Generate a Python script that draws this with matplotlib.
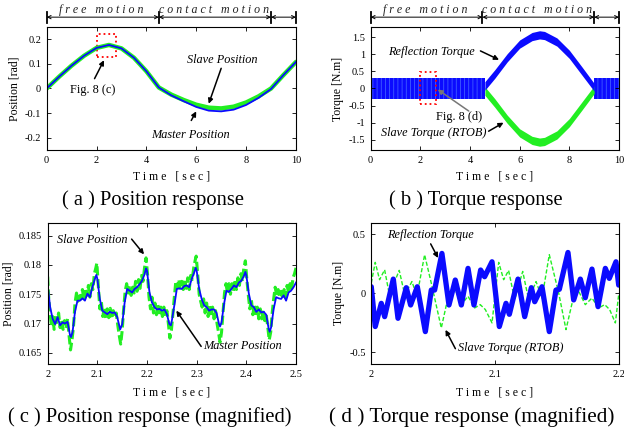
import matplotlib
matplotlib.use('Agg')
import matplotlib.pyplot as plt
from matplotlib.patches import Rectangle

plt.rcParams['font.family'] = ['Liberation Serif', 'DejaVu Serif']
plt.rcParams['hatch.linewidth'] = 0.5

# ---------------- data ----------------
# (a) position response, 0..10 s
pos_time = [0.0, 0.5, 1.0, 1.5, 2.0, 2.5, 3.0, 3.5, 4.0, 4.5, 5.0, 5.5, 6.0, 6.5,
            7.0, 7.5, 8.0, 8.5, 9.0, 9.5, 10.0]
master_pos = [0.0, 0.048, 0.093, 0.133, 0.165, 0.177, 0.163, 0.125, 0.07, 0.004,
              -0.028, -0.052, -0.075, -0.09, -0.093, -0.086, -0.067, -0.038, -0.002,
              0.055, 0.108]
slave_pos = [0.0, 0.048, 0.093, 0.133, 0.165, 0.177, 0.163, 0.125, 0.07, 0.004,
             -0.025, -0.047, -0.066, -0.078, -0.081, -0.074, -0.057, -0.032, 0.0,
             0.055, 0.108]

# (b) torque response envelopes (dense oscillation bands)
free_t1 = [0.0, 4.6]
free_t2 = [9.0, 10.0]
free_upper = [0.32, 0.32]
free_lower = [-0.32, -0.32]
contact_t = [4.6, 5.0, 5.5, 6.0, 6.5, 6.8, 7.0, 7.5, 8.0, 8.5, 9.0]
refl_upper = [0.20, 0.55, 1.02, 1.42, 1.64, 1.69, 1.67, 1.48, 1.12, 0.64, 0.15]
refl_lower = [-0.05, 0.30, 0.78, 1.18, 1.40, 1.45, 1.43, 1.24, 0.88, 0.40, -0.08]
slave_upper = [0.05, -0.30, -0.78, -1.18, -1.40, -1.45, -1.43, -1.24, -0.88, -0.40, 0.08]
slave_lower = [-0.20, -0.55, -1.02, -1.42, -1.64, -1.69, -1.67, -1.48, -1.12, -0.64, -0.15]

# (c) magnified position 2.0..2.5 s
master_c = [
    (2.000, 0.1765), (2.005, 0.1728), (2.010, 0.1708), (2.015, 0.1699), (2.020, 0.1711),
    (2.025, 0.1697), (2.030, 0.1702), (2.035, 0.1700), (2.040, 0.1703), (2.045, 0.1680),
    (2.047, 0.1677), (2.050, 0.1685), (2.055, 0.1720), (2.060, 0.1739), (2.065, 0.1739),
    (2.070, 0.1743), (2.075, 0.1739), (2.080, 0.1751), (2.085, 0.1745), (2.090, 0.1762),
    (2.095, 0.1776), (2.098, 0.1783), (2.100, 0.1776), (2.105, 0.1742), (2.110, 0.1722),
    (2.115, 0.1719), (2.120, 0.1716), (2.125, 0.1720), (2.130, 0.1718), (2.135, 0.1719),
    (2.140, 0.1711), (2.146, 0.1690), (2.150, 0.1699), (2.155, 0.1736), (2.160, 0.1759),
    (2.165, 0.1756), (2.170, 0.1753), (2.175, 0.1759), (2.180, 0.1762), (2.185, 0.1767),
    (2.190, 0.1773), (2.195, 0.1784), (2.198, 0.1794), (2.200, 0.1790), (2.205, 0.1753),
    (2.210, 0.1736), (2.215, 0.1728), (2.220, 0.1724), (2.225, 0.1725), (2.230, 0.1722),
    (2.235, 0.1724), (2.240, 0.1716), (2.245, 0.1699), (2.248, 0.1697), (2.250, 0.1705),
    (2.255, 0.1731), (2.260, 0.1759), (2.265, 0.1760), (2.270, 0.1759), (2.275, 0.1764),
    (2.280, 0.1765), (2.285, 0.1762), (2.290, 0.1776), (2.295, 0.1787), (2.298, 0.1795),
    (2.300, 0.1790), (2.305, 0.1759), (2.310, 0.1742), (2.315, 0.1731), (2.320, 0.1728),
    (2.325, 0.1722), (2.330, 0.1724), (2.335, 0.1724), (2.340, 0.1718), (2.345, 0.1699),
    (2.347, 0.1695), (2.350, 0.1702), (2.355, 0.1733), (2.360, 0.1756), (2.365, 0.1754),
    (2.370, 0.1759), (2.375, 0.1765), (2.380, 0.1762), (2.385, 0.1770), (2.390, 0.1773),
    (2.395, 0.1781), (2.398, 0.1788), (2.400, 0.1782), (2.405, 0.1751), (2.410, 0.1731),
    (2.415, 0.1728), (2.420, 0.1720), (2.425, 0.1724), (2.430, 0.1719), (2.435, 0.1720),
    (2.440, 0.1715), (2.445, 0.1691), (2.447, 0.1686), (2.450, 0.1694), (2.455, 0.1725),
    (2.460, 0.1745), (2.465, 0.1743), (2.470, 0.1742), (2.475, 0.1748), (2.480, 0.1739),
    (2.485, 0.1753), (2.490, 0.1756), (2.495, 0.1762), (2.500, 0.1770)]
slave_c = [
    (2.000, 0.1780), (2.002, 0.1745), (2.005, 0.1715), (2.008, 0.1695), (2.010, 0.1712),
    (2.013, 0.1690), (2.016, 0.1715), (2.019, 0.1702), (2.022, 0.1718), (2.025, 0.1693),
    (2.028, 0.1706), (2.031, 0.1690), (2.034, 0.1705), (2.037, 0.1692), (2.040, 0.1708),
    (2.043, 0.1680), (2.046, 0.1655), (2.049, 0.1672), (2.052, 0.1695), (2.055, 0.1735),
    (2.058, 0.1752), (2.061, 0.1738), (2.064, 0.1752), (2.067, 0.1742), (2.070, 0.1758),
    (2.073, 0.1740), (2.076, 0.1760), (2.079, 0.1748), (2.082, 0.1765), (2.085, 0.1745),
    (2.088, 0.1768), (2.091, 0.1758), (2.094, 0.1785), (2.097, 0.1795), (2.099, 0.1803),
    (2.102, 0.1765), (2.105, 0.1725), (2.108, 0.1738), (2.111, 0.1712), (2.114, 0.1728),
    (2.117, 0.1708), (2.120, 0.1725), (2.123, 0.1710), (2.126, 0.1726), (2.129, 0.1708),
    (2.132, 0.1722), (2.135, 0.1712), (2.138, 0.1718), (2.141, 0.1698), (2.144, 0.1680),
    (2.147, 0.1665), (2.150, 0.1688), (2.153, 0.1725), (2.156, 0.1755), (2.159, 0.1768),
    (2.162, 0.1752), (2.165, 0.1765), (2.168, 0.1748), (2.171, 0.1762), (2.174, 0.1752),
    (2.177, 0.1772), (2.180, 0.1755), (2.183, 0.1775), (2.186, 0.1760), (2.189, 0.1782),
    (2.192, 0.1772), (2.195, 0.1795), (2.198, 0.1812), (2.201, 0.1785), (2.204, 0.1745),
    (2.207, 0.1725), (2.210, 0.1745), (2.213, 0.1718), (2.216, 0.1735), (2.219, 0.1715),
    (2.222, 0.1732), (2.225, 0.1713), (2.228, 0.1728), (2.231, 0.1712), (2.234, 0.1728),
    (2.237, 0.1712), (2.240, 0.1722), (2.243, 0.1700), (2.246, 0.1675), (2.249, 0.1688),
    (2.252, 0.1715), (2.255, 0.1745), (2.258, 0.1772), (2.261, 0.1762), (2.264, 0.1775),
    (2.267, 0.1758), (2.270, 0.1772), (2.273, 0.1758), (2.276, 0.1775), (2.279, 0.1760),
    (2.282, 0.1778), (2.285, 0.1758), (2.288, 0.1782), (2.291, 0.1775), (2.294, 0.1795),
    (2.297, 0.1808), (2.299, 0.1815), (2.302, 0.1785), (2.305, 0.1750), (2.308, 0.1738),
    (2.311, 0.1728), (2.314, 0.1742), (2.317, 0.1718), (2.320, 0.1735), (2.323, 0.1712),
    (2.326, 0.1730), (2.329, 0.1712), (2.332, 0.1728), (2.335, 0.1708), (2.338, 0.1722),
    (2.341, 0.1700), (2.344, 0.1685), (2.347, 0.1668), (2.350, 0.1685), (2.353, 0.1718),
    (2.356, 0.1752), (2.359, 0.1768), (2.362, 0.1752), (2.365, 0.1768), (2.368, 0.1750),
    (2.371, 0.1768), (2.374, 0.1755), (2.377, 0.1775), (2.380, 0.1758), (2.383, 0.1778),
    (2.386, 0.1765), (2.389, 0.1785), (2.392, 0.1772), (2.395, 0.1795), (2.398, 0.1807),
    (2.401, 0.1775), (2.404, 0.1748), (2.407, 0.1725), (2.410, 0.1742), (2.413, 0.1715),
    (2.416, 0.1732), (2.419, 0.1712), (2.422, 0.1728), (2.425, 0.1708), (2.428, 0.1725),
    (2.431, 0.1708), (2.434, 0.1722), (2.437, 0.1705), (2.440, 0.1715), (2.443, 0.1695),
    (2.446, 0.1672), (2.449, 0.1685), (2.452, 0.1718), (2.455, 0.1742), (2.458, 0.1762),
    (2.461, 0.1748), (2.464, 0.1758), (2.467, 0.1745), (2.470, 0.1755), (2.473, 0.1742),
    (2.476, 0.1758), (2.479, 0.1745), (2.482, 0.1765), (2.485, 0.1752), (2.488, 0.1768),
    (2.491, 0.1758), (2.494, 0.1778), (2.497, 0.1785), (2.500, 0.1795)]

# (d) magnified torque 2.0..2.2 s
refl_d = [
    (2.0000, 0.056), (2.0032, -0.282), (2.0081, -0.085), (2.0108, -0.198), (2.0178, 0.121),
    (2.0216, -0.212), (2.0283, 0.048), (2.0318, -0.099), (2.0372, 0.056), (2.0437, -0.325),
    (2.0485, 0.028), (2.0512, 0.028), (2.0571, 0.339), (2.0628, -0.099), (2.0679, 0.113),
    (2.0728, -0.099), (2.0782, 0.212), (2.0830, -0.099), (2.0884, 0.198), (2.0916, 0.141),
    (2.0976, 0.268), (2.1035, -0.282), (2.1089, -0.085), (2.1116, -0.178), (2.1186, 0.121),
    (2.1240, -0.198), (2.1294, 0.048), (2.1321, -0.071), (2.1380, 0.056), (2.1439, -0.325),
    (2.1493, 0.028), (2.1520, 0.034), (2.1590, 0.347), (2.1636, -0.056), (2.1690, 0.121),
    (2.1730, -0.037), (2.1784, 0.206), (2.1833, -0.113), (2.1892, 0.212), (2.1924, 0.127),
    (2.1978, 0.268), (2.2000, 0.070)]
slave_d = [
    (2.0000, 0.088), (2.0032, 0.263), (2.0067, 0.116), (2.0108, 0.200), (2.0146, -0.011),
    (2.0226, 0.195), (2.0270, -0.011), (2.0329, 0.100), (2.0369, -0.025), (2.0431, 0.328),
    (2.0491, 0.060), (2.0566, -0.294), (2.0625, -0.011), (2.0679, 0.031), (2.0728, -0.096),
    (2.0782, -0.025), (2.0836, -0.124), (2.0881, -0.096), (2.0922, -0.138), (2.0976, -0.251),
    (2.1030, 0.263), (2.1070, 0.116), (2.1110, 0.195), (2.1159, -0.054), (2.1224, 0.186),
    (2.1272, -0.054), (2.1332, 0.100), (2.1380, -0.040), (2.1439, 0.328), (2.1515, 0.003),
    (2.1574, -0.308), (2.1636, -0.025), (2.1677, 0.017), (2.1730, -0.096), (2.1784, -0.040),
    (2.1838, -0.124), (2.1887, -0.096), (2.1927, -0.138), (2.1973, -0.251), (2.2000, -0.011)]

# ---------------- style ----------------
BLUE = '#0b0bff'
GREEN = '#22ee22'
TICK_FS = 7.5
LAB_FS = 8.5
ANN_FS = 8.8
CAP_FS = 14.8


def style(ax):
    ax.tick_params(direction='in', top=True, right=True, length=3, width=0.6,
                   labelsize=TICK_FS, pad=4)
    for s in ax.spines.values():
        s.set_linewidth(0.8)


def spaced(s):
    return ' '.join(s)


def phase_bar(ax, bounds, labels):
    tr = ax.get_xaxis_transform()
    y = 1.08
    for b in bounds:
        ax.plot([b, b], [1.03, 1.125], color='black', lw=1.3, transform=tr, clip_on=False)
    for a, b in zip(bounds[:-1], bounds[1:]):
        ax.annotate('', xy=(b, y), xytext=(a, y), xycoords=tr, textcoords=tr,
                    arrowprops=dict(arrowstyle='<->', lw=0.7, color='black',
                                    shrinkA=0, shrinkB=0, mutation_scale=6))
    for (a, b), lab in zip(zip(bounds[:-1], bounds[1:]), labels):
        if lab:
            ax.text((a + b) / 2 - 0.05, 1.092, spaced(lab), transform=tr, ha='center',
                    va='bottom', fontsize=8.6, style='italic', color='#222222')


def arrow(ax, xy, xytext, color='black'):
    ax.annotate('', xy=xy, xytext=xytext,
                arrowprops=dict(arrowstyle='-|>', lw=1.1, color=color,
                                shrinkA=0, shrinkB=0, mutation_scale=7))


fig = plt.figure(figsize=(6.24, 4.34), dpi=100)
axa = fig.add_axes([0.0748, 0.6544, 0.3995, 0.2834])
axb = fig.add_axes([0.594, 0.6544, 0.398, 0.2834])
axc = fig.add_axes([0.0764, 0.1613, 0.398, 0.3256])
axd = fig.add_axes([0.595, 0.1613, 0.3965, 0.3256])

# ---- (a)
axa.plot(pos_time, slave_pos, color=GREEN, lw=3.2, solid_capstyle='round')
axa.plot(pos_time, master_pos, color=BLUE, lw=1.3)
axa.set_xlim(0, 10)
axa.set_ylim(-0.25, 0.25)
axa.set_xticks([0, 2, 4, 6, 8, 10])
axa.set_xticklabels(['0', '2', '4', '6', '8', '10'])
axa.set_yticks([-0.2, -0.1, 0, 0.1, 0.2])
axa.set_yticklabels(['-0.2', '-0.1', '0', '0.1', '0.2'])
axa.set_xlabel(spaced('Time') + '   ' + spaced('[sec]'), fontsize=LAB_FS, labelpad=4)
axa.set_ylabel('Position [rad]', fontsize=LAB_FS, labelpad=3)
style(axa)
phase_bar(axa, [0, 4.5, 9, 10], ['free motion', 'contact motion', ''])
axa.add_patch(Rectangle((2.0, 0.127), 0.8, 0.093, fill=False, ec='red', ls=':', lw=1.3))
axa.text(1.85, -0.005, 'Fig. 8 (c)', fontsize=ANN_FS, ha='center', va='center')
arrow(axa, (2.3, 0.115), (1.92, 0.04))
axa.text(7.05, 0.116, 'Slave Position', fontsize=ANN_FS, style='italic', ha='center', va='center')
arrow(axa, (6.5, -0.062), (7.0, 0.082))
axa.text(5.75, -0.188, 'Master Position', fontsize=ANN_FS, style='italic', ha='center', va='center')
arrow(axa, (6.0, -0.093), (5.8, -0.13))

# ---- (b)
for ft in (free_t1, free_t2):
    axb.fill_between(ft, free_lower, free_upper, facecolor=BLUE, edgecolor='#4a6cff',
                     hatch='||||', lw=0)
axb.fill_between(contact_t, slave_lower, slave_upper, color=GREEN, lw=0)
axb.fill_between(contact_t, refl_lower, refl_upper, color=BLUE, lw=0)
axb.set_xlim(0, 10)
axb.set_ylim(-1.8, 1.8)
axb.set_xticks([0, 2, 4, 6, 8, 10])
axb.set_xticklabels(['0', '2', '4', '6', '8', '10'])
axb.set_yticks([-1.5, -1, -0.5, 0, 0.5, 1, 1.5])
axb.set_yticklabels(['-1.5', '-1', '-0.5', '0', '0.5', '1', '1.5'])
axb.set_xlabel(spaced('Time') + '   ' + spaced('[sec]'), fontsize=LAB_FS, labelpad=4)
axb.set_ylabel('Torque [N.m]', fontsize=LAB_FS, labelpad=3)
style(axb)
phase_bar(axb, [0, 4.5, 9, 10], ['free motion', 'contact motion', ''])
axb.add_patch(Rectangle((2.0, -0.45), 0.62, 0.93, fill=False, ec='red', ls=':', lw=1.3))
axb.text(3.55, -0.82, 'Fig. 8 (d)', fontsize=ANN_FS, ha='center', va='center')
arrow(axb, (2.7, -0.03), (3.95, -0.66), color='#777777')
axb.text(2.45, 1.07, 'Reflection Torque', fontsize=ANN_FS, style='italic', ha='center', va='center')
arrow(axb, (5.17, 0.84), (4.42, 1.1))
axb.text(2.55, -1.31, 'Slave Torque (RTOB)', fontsize=ANN_FS, style='italic', ha='center', va='center')
arrow(axb, (5.35, -1.0), (4.75, -1.25))

# ---- (c)
axc.plot([p[0] for p in slave_c], [p[1] for p in slave_c], color=GREEN, lw=2.2,
         ls=(0, (3, 1.2)))
axc.plot([p[0] for p in master_c], [p[1] for p in master_c], color=BLUE, lw=1.3)
axc.set_xlim(2.0, 2.5)
axc.set_ylim(0.1631, 0.1872)
axc.set_xticks([2.0, 2.1, 2.2, 2.3, 2.4, 2.5])
axc.set_xticklabels(['2', '2.1', '2.2', '2.3', '2.4', '2.5'])
axc.set_yticks([0.165, 0.17, 0.175, 0.18, 0.185])
axc.set_yticklabels(['0.165', '0.17', '0.175', '0.18', '0.185'])
axc.set_xlabel(spaced('Time') + '   ' + spaced('[sec]'), fontsize=LAB_FS, labelpad=6)
axc.set_ylabel('Position [rad]', fontsize=LAB_FS, labelpad=3)
style(axc)
axc.text(2.09, 0.1842, 'Slave Position', fontsize=ANN_FS, style='italic', ha='center', va='center')
arrow(axc, (2.194, 0.1818), (2.169, 0.1844))
axc.text(2.392, 0.1661, 'Master Position', fontsize=ANN_FS, style='italic', ha='center', va='center')
arrow(axc, (2.259, 0.1722), (2.309, 0.1661))

# ---- (d)
axd.plot([p[0] for p in slave_d], [p[1] for p in slave_d], color=GREEN, lw=1.0,
         ls=(0, (3, 1.5)))
axd.plot([p[0] for p in refl_d], [p[1] for p in refl_d], color=BLUE, lw=3.8,
         solid_joinstyle='round', solid_capstyle='round')
axd.set_xlim(2.0, 2.2)
axd.set_ylim(-0.6, 0.6)
axd.set_xticks([2.0, 2.1, 2.2])
axd.set_xticklabels(['2', '2.1', '2.2'])
axd.set_yticks([-0.5, 0, 0.5])
axd.set_yticklabels(['-0.5', '0', '0.5'])
axd.set_xlabel(spaced('Time') + '   ' + spaced('[sec]'), fontsize=LAB_FS, labelpad=6)
axd.set_ylabel('Torque [N.m]', fontsize=LAB_FS, labelpad=3)
style(axd)
axd.text(2.048, 0.497, 'Reflection Torque', fontsize=ANN_FS, style='italic', ha='center', va='center')
arrow(axd, (2.054, 0.30), (2.048, 0.42))
axd.text(2.113, -0.463, 'Slave Torque (RTOB)', fontsize=ANN_FS, style='italic', ha='center', va='center')
arrow(axd, (2.060, -0.31), (2.068, -0.47))

# ---- captions
fig.text(0.2455, 0.538, '( a ) Position response', fontsize=CAP_FS, ha='center', va='center')
fig.text(0.762, 0.538, '( b ) Torque response', fontsize=CAP_FS, ha='center', va='center')
fig.text(0.2395, 0.04, '( c ) Position response (magnified)', fontsize=CAP_FS, ha='center', va='center')
fig.text(0.756, 0.04, '( d ) Torque response (magnified)', fontsize=15.3, ha='center', va='center')

fig.savefig('out.png', dpi=100)
